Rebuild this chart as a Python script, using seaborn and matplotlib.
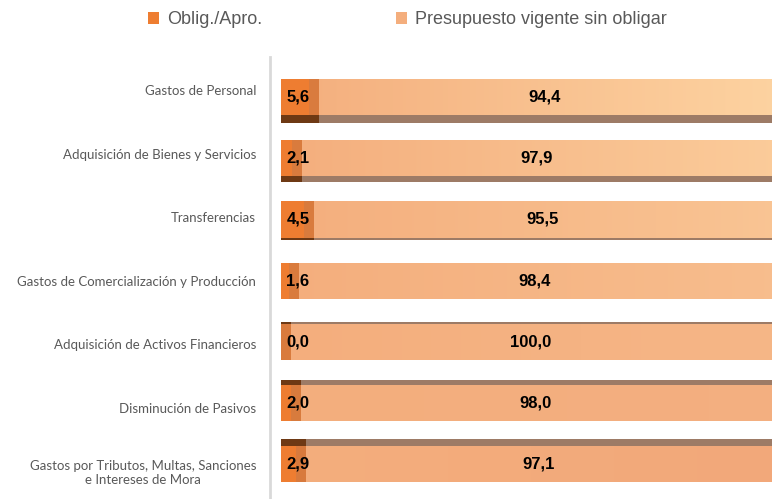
import numpy as np
import pandas as pd
import matplotlib
matplotlib.use("Agg")
import matplotlib.pyplot as plt
import seaborn as sns
from matplotlib.patches import Patch
from matplotlib.colors import to_rgb

categories = [
    "Gastos de Personal",
    "Adquisición de Bienes y Servicios",
    "Transferencias",
    "Gastos de Comercialización y Producción",
    "Adquisición de Activos Financieros",
    "Disminución de Pasivos",
    "Gastos por Tributos, Multas, Sanciones\ne Intereses de Mora",
]
oblig = [5.6, 2.1, 4.5, 1.6, 0.0, 2.0, 2.9]
sin_obligar = [94.4, 97.9, 95.5, 98.4, 100.0, 98.0, 97.1]
series_names = ["Oblig./Apro.", "Presupuesto vigente sin obligar"]

df = pd.DataFrame({"cat": categories, "oblig": oblig, "rest": sin_obligar})
df["total"] = df["oblig"] + df["rest"]

sns.set_theme(style="white")
plt.rcParams["font.family"] = ["Lato", "DejaVu Sans"]

C_OBL = "#EE7D31"
C_OBL_SIDE = "#D06A28"
C_OBL_SHADOW = "#6E3914"
C_REST = "#F4AE7D"
C_REST_SHADOW = "#9D7B66"
C_TEXT = "#595959"
LIGHT_TOP = "#FDD3A1"
LIGHT_BOTTOM = "#F2A87A"

W, H = 772, 499
fig = plt.figure(figsize=(W / 100, H / 100), dpi=100)
ax = fig.add_axes([270 / W, 1 - 498 / H, 511 / W, (498 - 57) / H])

bar_h = 0.59
row_px = 61.2
pos = np.arange(len(categories))
n = len(categories)

# pseudo-3D depth strips (perspective: below for upper rows, above for lower rows)
for i in pos:
    off = (3.1 - i) * 2.5 / row_px
    ax.barh(i + off, df["total"][i], height=bar_h, left=0, color=C_REST_SHADOW, zorder=1, linewidth=0)
    ax.barh(i + off, df["oblig"][i] + 2.0, height=bar_h, left=0, color=C_OBL_SHADOW, zorder=1.1, linewidth=0)

sns.barplot(data=df, y="cat", x="total", orient="y", color=C_REST, saturation=1,
            width=bar_h, ax=ax, zorder=2, linewidth=0)
face_patches = list(ax.patches[-n:])

# soft horizontal gradient on the front faces
left_rgb = np.array(to_rgb(C_REST))
for i, p in enumerate(face_patches):
    t = i / (n - 1)
    right_rgb = (1 - t) * np.array(to_rgb(LIGHT_TOP)) + t * np.array(to_rgb(LIGHT_BOTTOM))
    g = np.linspace(0, 1, 256)[None, :, None]
    img = (1 - g) * left_rgb + g * right_rgb
    x0, y0 = p.get_x(), p.get_y()
    im = ax.imshow(img, extent=(x0, x0 + p.get_width(), y0 + p.get_height(), y0),
                   aspect="auto", zorder=2.1, interpolation="bilinear")
    im.set_clip_path(p)

sns.barplot(data=df, y="cat", x="oblig", orient="y", color=C_OBL, saturation=1,
            width=bar_h, ax=ax, zorder=3, linewidth=0)
# side face of the first segment
for i in pos:
    ax.barh(i, 2.0, height=bar_h, left=df["oblig"][i], color=C_OBL_SIDE, alpha=0.75,
            zorder=3.5, linewidth=0)

fmt = lambda v: f"{v:.1f}".replace(".", ",")
lab_font = ["Liberation Sans", "DejaVu Sans"]
for i in pos:
    ax.text(3.4, i, fmt(df["oblig"][i]), ha="center", va="center", fontsize=12,
            fontweight="bold", color="black", family=lab_font, zorder=5)
    ax.text(df["oblig"][i] + df["rest"][i] / 2, i, fmt(df["rest"][i]), ha="center", va="center",
            fontsize=12, fontweight="bold", color="black", family=lab_font, zorder=5)

ax.set_xlim(-2.2, 100)
ax.set_ylim(6.55, -0.654)
ax.set_aspect("auto")
ax.set_xlabel("")
ax.set_ylabel("")
ax.set_xticks([])
ax.set_yticks(pos + (pos - 3) * 2.3 / row_px)
ax.set_yticklabels(categories, fontsize=9.5, color=C_TEXT, multialignment="center")
ax.tick_params(axis="y", length=0, pad=10)
for s in ["top", "right", "bottom"]:
    ax.spines[s].set_visible(False)
ax.spines["left"].set_color("#D9D9D9")
ax.spines["left"].set_linewidth(2)

handles = [Patch(facecolor=C_OBL, edgecolor="none"), Patch(facecolor=C_REST, edgecolor="none")]
fig.legend(handles, series_names, loc="center left", bbox_to_anchor=(148 / W, 1 - 20 / H),
           ncol=2, frameon=False, handlelength=0.62, handleheight=0.62,
           handletextpad=0.45, columnspacing=7.4, labelcolor=C_TEXT, borderpad=0,
           borderaxespad=0, prop={"family": ["Liberation Sans", "DejaVu Sans"], "size": 13})

fig.savefig("out.png", dpi=100)
